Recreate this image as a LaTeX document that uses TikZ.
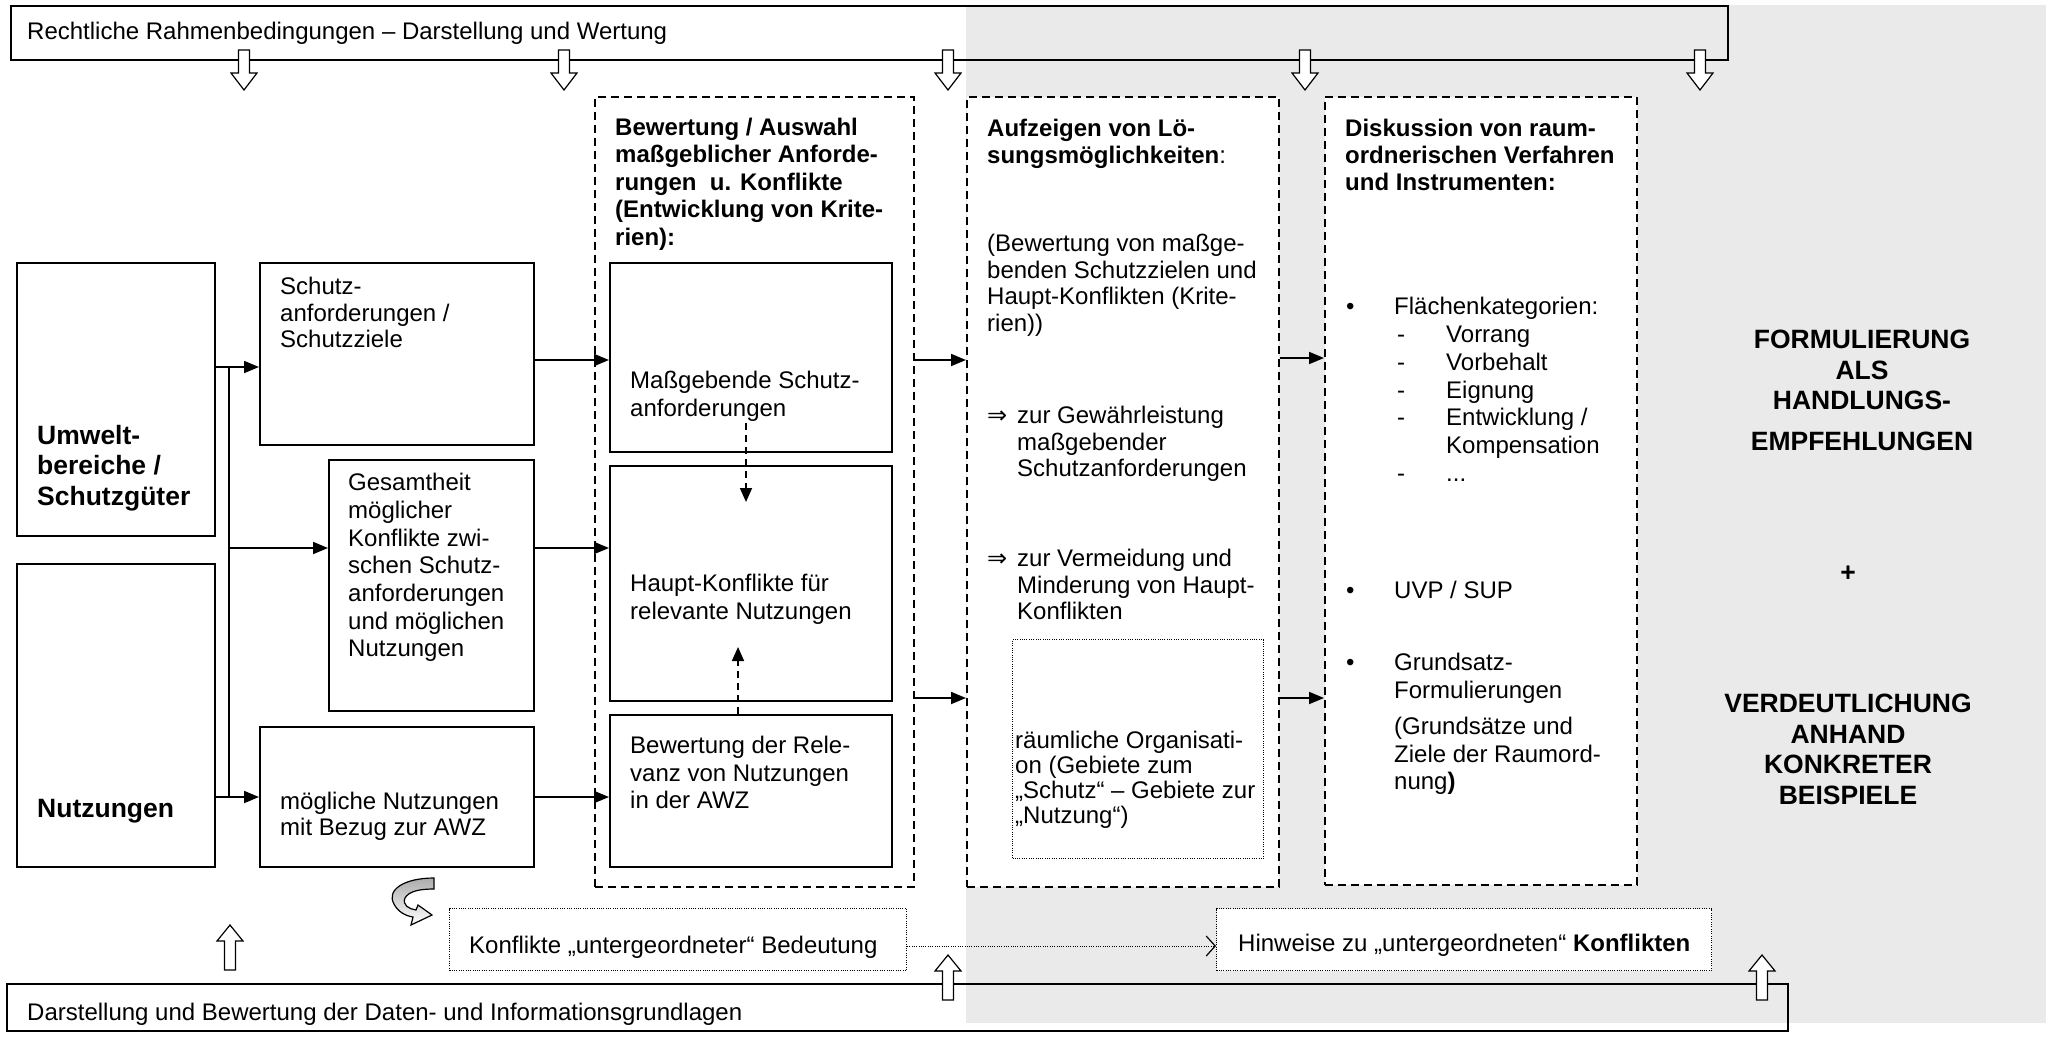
\documentclass[tikz,border=0pt]{standalone}
\usepackage{fontspec}
\setmainfont{Liberation Sans}
\newfontfamily\symfont{DejaVu Sans}
\usetikzlibrary{arrows.meta}
\definecolor{panelgray}{RGB}{234,234,234}
\newcommand\blockdown[2]{%
  \draw[line width=1.2pt, fill=white] ({#1-5.5},{#2}) -- ({#1+5.5},{#2}) -- ({#1+5.5},{#2+23}) -- ({#1+13},{#2+23}) -- ({#1},{#2+40}) -- ({#1-13},{#2+23}) -- ({#1-5.5},{#2+23}) -- cycle;}
\newcommand\blockup[2]{%
  \draw[line width=1.2pt, fill=white] ({#1-5.5},{#2+45}) -- ({#1+5.5},{#2+45}) -- ({#1+5.5},{#2+16}) -- ({#1+13},{#2+16}) -- ({#1},{#2}) -- ({#1-13},{#2+16}) -- ({#1-5.5},{#2+16}) -- cycle;}
\begin{document}
\begin{tikzpicture}[x=1pt,y=-1pt,
  solidbox/.style={draw, line width=1.8pt, anchor=north west, inner sep=0pt},
  framebox/.style={draw, line width=2pt, anchor=north west, inner sep=0pt},
  dashbox/.style={draw, line width=1.6pt, dash pattern=on 8pt off 5pt, fill=white, anchor=north west, inner sep=0pt},
  dotbox/.style={draw, line width=1pt, dash pattern=on 1pt off 1.3pt, fill=white, anchor=north west, inner sep=0pt},
  txt/.style={anchor=north west, inner sep=0pt, align=left, font=\fontsize{24}{#1}\selectfont, execute at begin node=\strut},
  txt/.default=27.3,
  btxt/.style={anchor=north west, inner sep=0pt, align=left, font=\fontsize{24}{#1}\selectfont\bfseries, execute at begin node=\strut},
  btxt/.default=27.3,
  bigb/.style={inner sep=0pt, font=\fontsize{26.5}{30.5}\selectfont\bfseries, execute at begin node=\strut},
  arr/.style={line width=1.8pt, -{Triangle[length=15pt,width=12pt]}},
  darr/.style={line width=1.6pt, dash pattern=on 7pt off 5pt, -{Triangle[length=14pt,width=12pt]}},
  dotarr/.style={line width=1pt, dash pattern=on 1pt off 1.3pt, -{Straight Barb[length=9pt,width=20pt,line width=1.2pt]}}
]
\useasboundingbox (0,0) rectangle (2067,1037);
\fill[white] (0,0) rectangle (2067,1037);
% grey panel
\fill[panelgray] (966,5) rectangle (2046,1023);

% frame boxes top and bottom
\node[framebox, minimum width=1717pt, minimum height=54pt] (top) at (10,5) {};
\node[txt] (toptxt) at (27,20) {Rechtliche Rahmenbedingungen – Darstellung und Wertung};
\node[framebox, minimum width=1781pt, minimum height=47pt] (bot) at (6,983) {};
\node[txt] (bottxt) at (27,1001) {Darstellung und Bewertung der Daten- und Informationsgrundlagen};

% left column
\node[solidbox, minimum width=198pt, minimum height=273pt] (umw) at (16,262) {};
\node[bigb, anchor=north west, align=left] (umwt) at (37,425) {Umwelt-\\bereiche /\\Schutzgüter};
\node[solidbox, minimum width=198pt, minimum height=303pt] (nutz) at (16,563) {};
\node[bigb, anchor=north west, align=left] (nutzt) at (37,796) {Nutzungen};

% second column
\node[solidbox, minimum width=274pt, minimum height=182pt] (schutz) at (259,262) {};
\node[txt=26.5] (schutzt) at (280,277) {Schutz-\\anforderungen /\\Schutzziele};
\node[solidbox, minimum width=205pt, minimum height=251pt] (gesamt) at (328,459) {};
\node[txt=27.7] (gesamtt) at (348,473) {Gesamtheit\\möglicher\\Konflikte zwi-\\schen Schutz-\\anforderungen\\und möglichen\\Nutzungen};
\node[solidbox, minimum width=274pt, minimum height=140pt] (moegl) at (259,726) {};
\node[txt=26] (moeglt) at (280,792) {mögliche Nutzungen\\mit Bezug zur AWZ};

% box A
\node[dashbox, minimum width=319pt, minimum height=790pt] (boxA) at (594,96) {};
\node[btxt=27.4] (boxAt) at (615,118) {Bewertung / Auswahl\\maßgeblicher Anforde-\\rungen~ u. Konflikte\\(Entwicklung von Krite-\\rien):};
\node[solidbox, minimum width=282pt, minimum height=189pt] (mass) at (609,262) {};
\node[txt=28] (masst) at (630,371) {Maßgebende Schutz-\\anforderungen};
\node[solidbox, minimum width=282pt, minimum height=235pt] (haupt) at (609,465) {};
\node[txt=28] (hauptt) at (630,574) {Haupt-Konflikte für\\relevante Nutzungen};
\node[solidbox, minimum width=282pt, minimum height=152pt] (relev) at (609,714) {};
\node[txt=27.5] (relevt) at (630,736) {Bewertung der Rele-\\vanz von Nutzungen\\in der AWZ};

% box B
\node[dashbox, minimum width=312pt, minimum height=790pt] (boxB) at (966,96) {};
\node[btxt=27] (boxBt) at (987,119) {Aufzeigen von Lö-\\sungsmöglichkeiten\textmd{:}};
\node[txt=26.7] (bwt) at (987,234) {(Bewertung von maßge-\\benden Schutzzielen und\\Haupt-Konflikten (Krite-\\rien))};
\node[txt=26.5] (gew) at (987,406) {\makebox[30pt][l]{\symfont ⇒}zur Gewährleistung\\\hspace*{30pt}maßgebender\\\hspace*{30pt}Schutzanforderungen};
\node[txt=26.5] (verm) at (987,549) {\makebox[30pt][l]{\symfont ⇒}zur Vermeidung und\\\hspace*{30pt}Minderung von Haupt-\\\hspace*{30pt}Konflikten};
\node[dotbox, minimum width=251pt, minimum height=219pt] (raeum) at (1012,639) {};
\node[txt=25] (raeumt) at (1015,731) {räumliche Organisati-\\on (Gebiete zum\\„Schutz“ – Gebiete zur\\„Nutzung“)};

% box C
\node[dashbox, minimum width=312pt, minimum height=788pt] (boxC) at (1324,96) {};
\node[btxt=26.8] (boxCt) at (1345,119) {Diskussion von raum-\\ordnerischen Verfahren\\und Instrumenten:};
\node[txt=27.8] (flk) at (1346,297) {\makebox[48pt][l]{•}Flächenkategorien:\\
\hspace*{51pt}\makebox[49pt][l]{-}Vorrang\\
\hspace*{51pt}\makebox[49pt][l]{-}Vorbehalt\\
\hspace*{51pt}\makebox[49pt][l]{-}Eignung\\
\hspace*{51pt}\makebox[49pt][l]{-}Entwicklung /\\
\hspace*{100pt}Kompensation\\
\hspace*{51pt}\makebox[49pt][l]{-}...};
\node[txt] (uvp) at (1346,579) {\makebox[48pt][l]{•}UVP / SUP};
\node[txt=27.5] (grund) at (1346,653) {\makebox[48pt][l]{•}Grundsatz-\\\hspace*{48pt}Formulierungen\\[9pt]\hspace*{48pt}(Grundsätze und\\\hspace*{48pt}Ziele der Raumord-\\\hspace*{48pt}nung\textbf{)}};

% right text
\node[bigb, anchor=north, align=center] (form) at (1862,330) {FORMULIERUNG\\ALS\\HANDLUNGS-\\[10pt]EMPFEHLUNGEN};
\node[bigb, anchor=center] (plus) at (1848,575) {+};
\node[bigb, anchor=north, align=center] (verd) at (1848,694) {VERDEUTLICHUNG\\ANHAND\\KONKRETER\\BEISPIELE};

% bottom dotted boxes
\node[dotbox, minimum width=457pt, minimum height=62pt] (konf) at (449,908) {};
\node[txt] (konft) at (469,934) {Konflikte „untergeordneter“ Bedeutung};
\node[dotbox, minimum width=495pt, minimum height=62pt] (hinw) at (1216,908) {};
\node[txt] (hinwt) at (1238,932) {Hinweise zu „untergeordneten“ \textbf{Konflikten}};

% helper coordinates
\coordinate (y360) at (0,360);
\coordinate (y367) at (0,367);
\coordinate (y548) at (0,548);
\coordinate (y797) at (0,797);
\coordinate (y698) at (0,698);
\coordinate (y358) at (0,358);
\coordinate (y946) at (0,946);
\coordinate (vtop) at (229,367);
\coordinate (vbot) at (229,797);
\coordinate (vmid) at (229,548);

% left connectors
\draw[line width=1.8pt] (vtop) -- (vbot);
\draw[arr] (umw.east |- y367) -- (schutz.west |- y367);
\draw[arr] (vmid) -- (gesamt.west |- y548);
\draw[arr] (nutz.east |- y797) -- (moegl.west |- y797);
\draw[arr] (schutz.east |- y360) -- (mass.west |- y360);
\draw[arr] (gesamt.east |- y548) -- (haupt.west |- y548);
\draw[arr] (moegl.east |- y797) -- (relev.west |- y797);
\draw[arr] (boxA.east |- y360) -- (boxB.west |- y360);
\draw[arr] (boxA.east |- y698) -- (boxB.west |- y698);
\draw[arr] (boxB.east |- y358) -- (boxC.west |- y358);
\draw[arr] (boxB.east |- y698) -- (boxC.west |- y698);

% dashed arrows inside box A
\coordinate (ds) at (746,423);
\coordinate (de) at (746,502);
\coordinate (us) at (738,714);
\coordinate (ue) at (738,647);
\draw[darr] (ds) -- (de);
\draw[darr] (us) -- (ue);

% dotted arrow
\draw[dotarr] (konf.east |- y946) -- (hinw.west |- y946);

% block arrows
\blockdown{244}{50}
\blockdown{564}{50}
\blockdown{948}{50}
\blockdown{1305}{50}
\blockdown{1700}{50}
\blockup{230}{925}
\blockup{948}{955}
\blockup{1762}{955}

% curved arrow
\draw[line width=1.2pt, top color=gray!65, bottom color=white]
  (434,878) .. controls (404,878) and (386,890) .. (394,904)
  .. controls (398,912) and (406,916) .. (413,917)
  -- (411,925) -- (432,915) -- (418,905) -- (416,910)
  .. controls (409,909) and (402,905) .. (405,898)
  .. controls (409,891) and (420,889) .. (434,889) -- cycle;
\end{tikzpicture}
\end{document}
